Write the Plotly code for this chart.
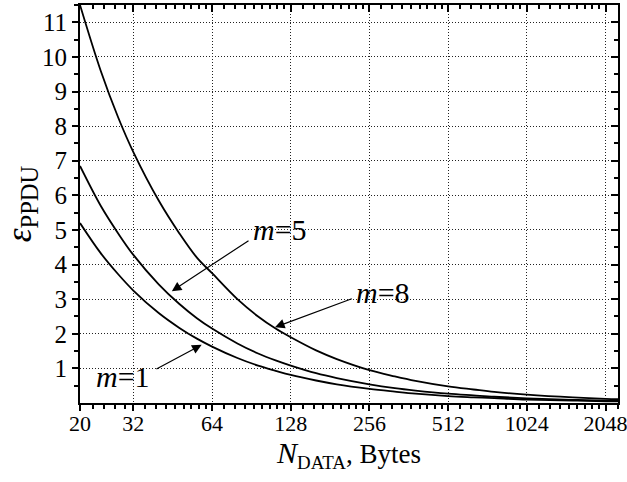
import math
import plotly.graph_objects as go

# Data
n_data = [20, 24, 28, 32, 40, 48, 56, 64, 80, 96, 112, 128, 160, 192, 256, 320, 384,
          512, 640, 768, 1024, 1536, 2048, 2300]
eps_m8 = [11.5, 9.6, 8.25, 7.25, 5.85, 4.9, 4.2, 3.75, 3.0, 2.5, 2.15, 1.9, 1.52, 1.27,
          0.95, 0.77, 0.64, 0.48, 0.39, 0.32, 0.24, 0.16, 0.12, 0.11]
eps_m5 = [6.85, 5.7, 4.9, 4.28, 3.43, 2.86, 2.45, 2.15, 1.72, 1.43, 1.23, 1.08, 0.86, 0.72,
          0.54, 0.43, 0.36, 0.27, 0.22, 0.18, 0.135, 0.09, 0.07, 0.06]
eps_m1 = [5.2, 4.33, 3.72, 3.25, 2.6, 2.17, 1.86, 1.63, 1.3, 1.08, 0.93, 0.81, 0.65, 0.54,
          0.41, 0.33, 0.27, 0.2, 0.165, 0.14, 0.1, 0.07, 0.05, 0.045]

x_ticks = [20, 32, 64, 128, 256, 512, 1024, 2048]
x_ticklabels = ["20", "32", "64", "128", "256", "512", "1024", "2048"]
y_ticks = list(range(1, 12))
y_minor = [k + 0.5 for k in range(0, 12)]

X_MAX = 2285
Y_MAX = 11.5

# minor ticks on x (linear subdivisions inside each major interval)
x_minor = [22.4, 24.8, 27.2, 29.6]
base = 32
while base < X_MAX:
    for k in range(1, 9):
        v = base * (1 + k / 9)
        if v < X_MAX:
            x_minor.append(v)
    base *= 2

FONT = "Liberation Serif"
xr = [math.log10(20), math.log10(X_MAX)]
GRID_DASH = "1px,2px"

fig = go.Figure()
for ys in (eps_m8, eps_m5, eps_m1):
    fig.add_trace(go.Scatter(x=n_data, y=ys, mode="lines", line=dict(color="black", width=1.8, shape="spline"),
                             showlegend=False, hoverinfo="skip"))
# invisible traces so that mirrored (inside-tick) axes are drawn
fig.add_trace(go.Scatter(x=[None], y=[None], xaxis="x2", yaxis="y", showlegend=False))
fig.add_trace(go.Scatter(x=[None], y=[None], xaxis="x", yaxis="y2", showlegend=False))

common = dict(showline=True, linecolor="black", linewidth=2, zeroline=False, automargin=False)

fig.update_layout(
    width=627, height=482,
    margin=dict(l=80, r=9, t=5, b=79),
    plot_bgcolor="white", paper_bgcolor="white",
    font=dict(family=FONT, color="black", size=22),
    xaxis=dict(type="log", range=xr, tickvals=x_ticks, ticktext=x_ticklabels,
               ticks="outside", ticklen=6, tickwidth=2, tickcolor="black",
               showgrid=True, gridcolor="#222", griddash=GRID_DASH, gridwidth=1,
               minor=dict(tickvals=x_minor, ticks="outside", ticklen=4, tickwidth=1.5,
                          tickcolor="black", showgrid=False),
               tickfont=dict(size=22, family=FONT), ticklabeloverflow="allow",
               title=dict(text="<span style='font-size:30px'><i>N</i></span><sub>DATA</sub>, Bytes",
                          font=dict(size=27, family=FONT), standoff=0),
               **common),
    yaxis=dict(range=[0, Y_MAX], tickvals=y_ticks,
               ticks="outside", ticklen=6, tickwidth=2, tickcolor="black",
               showgrid=True, gridcolor="#222", griddash=GRID_DASH, gridwidth=1,
               minor=dict(tickvals=y_minor, ticks="outside", ticklen=4, tickwidth=1.5,
                          tickcolor="black", showgrid=False),
               tickfont=dict(size=25, family=FONT), ticklabeloverflow="allow",
               title=dict(text="<i>ε</i><sub>PPDU</sub>", font=dict(size=35, family=FONT), standoff=0),
               **common),
    xaxis2=dict(type="log", range=xr, overlaying="x", side="top", anchor="y",
                tickvals=x_ticks, showticklabels=False, ticks="inside", ticklen=7, tickwidth=2,
                tickcolor="black", showgrid=False,
                minor=dict(tickvals=x_minor, ticks="inside", ticklen=4, tickwidth=1.5,
                           tickcolor="black", showgrid=False),
                **common),
    yaxis2=dict(range=[0, Y_MAX], overlaying="y", side="right", anchor="x",
                tickvals=y_ticks, showticklabels=False, ticks="inside", ticklen=7, tickwidth=2,
                tickcolor="black", showgrid=False,
                minor=dict(tickvals=y_minor, ticks="inside", ticklen=4, tickwidth=1.5,
                           tickcolor="black", showgrid=False),
                **common),
)

# move x tick labels closer to the axis, if this plotly version allows it
try:
    fig.layout.xaxis.ticklabelstandoff = -6
except Exception:
    pass

# labels
labels = [("<i>m</i>=5", 116, 5.0), ("<i>m</i>=8", 288, 3.19), ("<i>m</i>=1", 29.2, 0.78)]
for txt, xv, yv in labels:
    fig.add_annotation(x=math.log10(xv), y=yv, xref="x", yref="y", text=txt, showarrow=False,
                       font=dict(size=30, family=FONT, color="black"))

# arrows: (tail N, tail y, tip N, tip y)
arrows = [(89.4, 4.72, 44.9, 3.23), (222, 3.03, 111.4, 2.19), (38.7, 0.957, 58.4, 1.68)]
for tx, ty, hx, hy in arrows:
    fig.add_annotation(x=math.log10(hx), y=hy, ax=math.log10(tx), ay=ty, xref="x", yref="y",
                       axref="x", ayref="y", text="", showarrow=True, arrowhead=2,
                       arrowsize=1.6, arrowwidth=1.2, arrowcolor="black", standoff=0)

fig.write_html("out.html", config={"displayModeBar": False},
               post_script="document.body.style.margin='0';")
